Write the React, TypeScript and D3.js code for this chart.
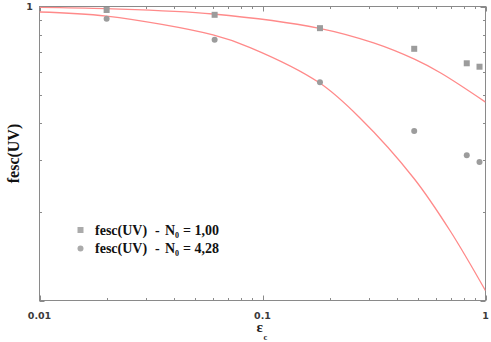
import React from 'react';
import * as d3 from 'd3';

// measured points (eps_c, fesc)
const epsPoints = [0.02, 0.061, 0.181, 0.479, 0.824, 0.94];
const fescN100 = [0.973, 0.937, 0.844, 0.718, 0.641, 0.624];
const fescN428 = [0.908, 0.77, 0.552, 0.377, 0.312, 0.296];

// fitted curves
const fitEpsA = [0.01, 0.02, 0.06, 0.18, 0.315, 0.48, 0.63, 1];
const fitFescA = [0.993, 0.983, 0.943, 0.843, 0.752, 0.662, 0.594, 0.473];
const fitEpsB = [0.01, 0.02, 0.06, 0.088, 0.18, 0.275, 0.478, 0.696, 1];
const fitFescB = [0.958, 0.927, 0.8, 0.725, 0.55, 0.416, 0.26, 0.172, 0.108];

const xTickLabels = ['0.01', '0.1', '1'];
const yTickLabels = ['1'];
const legendLabels = ['1,00', '4,28'];

const W = 491;
const H = 342;
const m = {left: 39.5, top: 6.5, right: 485.5, bottom: 300.5};

export default function App() {
  const x = d3.scaleLog().domain([0.01, 1]).range([m.left, m.right]);
  const y = d3.scaleLog().domain([0.1, 1]).range([m.bottom, m.top]);

  const line = d3
    .line<[number, number]>()
    .x(d => x(d[0]))
    .y(d => y(d[1]))
    .curve(d3.curveCatmullRom.alpha(0.5));

  const curveA = line(fitEpsA.map((e, i) => [e, fitFescA[i]]));
  const curveB = line(fitEpsB.map((e, i) => [e, fitFescB[i]]));

  const xTicks = x.ticks();
  const yTicks = y.ticks();
  const isMajor = (v: number) => Math.abs(Math.log10(v) - Math.round(Math.log10(v))) < 1e-6;

  const axisColor = '#8a8a8a';
  const curveColor = '#ff8a8a';
  const dotColor = '#9c9c9c';
  const labelFont = 'DejaVu Sans';
  const serif = 'Liberation Serif';

  return (
    <svg width={W} height={H} style={{position: 'absolute', left: 0, top: 0, background: '#fff'}}>
      <defs>
        <clipPath id="plot">
          <rect x={m.left} y={m.top} width={m.right - m.left} height={m.bottom - m.top} />
        </clipPath>
      </defs>

      {/* ticks, mirrored on all four sides */}
      <g stroke={axisColor} strokeWidth={1}>
        {xTicks.map((t, i) => {
          const len = isMajor(t) ? 5 : 2.5;
          const px = Math.round(x(t)) + 0.5;
          return (
            <g key={'xt' + i}>
              <line x1={px} x2={px} y1={m.bottom} y2={m.bottom - len} />
              <line x1={px} x2={px} y1={m.top} y2={m.top + len} />
            </g>
          );
        })}
        {yTicks.map((t, i) => {
          const len = isMajor(t) ? 5 : 2.5;
          const py = Math.round(y(t)) + 0.5;
          return (
            <g key={'yt' + i}>
              <line x1={m.left} x2={m.left + len} y1={py} y2={py} />
              <line x1={m.right} x2={m.right - len} y1={py} y2={py} />
            </g>
          );
        })}
        <rect x={m.left} y={m.top} width={m.right - m.left} height={m.bottom - m.top} fill="none" />
      </g>

      {/* fitted curves */}
      <g clipPath="url(#plot)" fill="none" stroke={curveColor} strokeWidth={1.3}>
        <path d={curveA || ''} />
        <path d={curveB || ''} />
      </g>

      {/* data points */}
      <g fill={dotColor}>
        {epsPoints.map((e, i) => (
          <rect key={'s' + i} x={x(e) - 3} y={y(fescN100[i]) - 3} width={6} height={6} />
        ))}
        {epsPoints.map((e, i) => (
          <circle key={'c' + i} cx={x(e)} cy={y(fescN428[i])} r={3} />
        ))}
      </g>

      {/* tick labels */}
      <g fontFamily={labelFont} fontWeight="bold" fontSize={9.5} fill="#3a3a3a" textAnchor="middle">
        {xTickLabels.map(l => (
          <text key={'xl' + l} x={x(+l)} y={318.5}>
            {l}
          </text>
        ))}
        {yTickLabels.map(l => (
          <text key={'yl' + l} x={29.5} y={y(+l) + 3.5}>
            {l}
          </text>
        ))}
      </g>

      {/* axis titles */}
      <text
        transform={`translate(19,${(m.top + m.bottom) / 2}) rotate(-90)`}
        textAnchor="middle"
        fontFamily={serif}
        fontWeight="bold"
        fontSize={16}
        fill="#111">
        fesc(UV)
      </text>
      <text x={256.5} y={332} fontFamily={serif} fontWeight="bold" fontSize={15} fill="#222">
        ε
      </text>
      <text x={263.5} y={340} fontFamily={serif} fontWeight="bold" fontSize={8.5} fill="#222">
        c
      </text>

      {/* legend */}
      <g fontFamily={serif} fontWeight="bold" fontSize={14} fill="#111">
        {legendLabels.map((l, i) => {
          const cy = 230 + i * 18.5;
          const by = cy + 4.5;
          return (
            <g key={'lg' + i}>
              {i === 0 ? (
                <rect x={77.5} y={cy - 3} width={6} height={6} fill="#ababab" />
              ) : (
                <circle cx={80.5} cy={cy} r={3} fill="#ababab" />
              )}
              <text x={95} y={by}>fesc(UV)</text>
              <text x={155} y={by}>-</text>
              <text x={165} y={by}>N</text>
              <text x={175} y={by + 3} fontSize={8}>0</text>
              <text x={183} y={by}>{'= ' + l}</text>
            </g>
          );
        })}
      </g>
    </svg>
  );
}
